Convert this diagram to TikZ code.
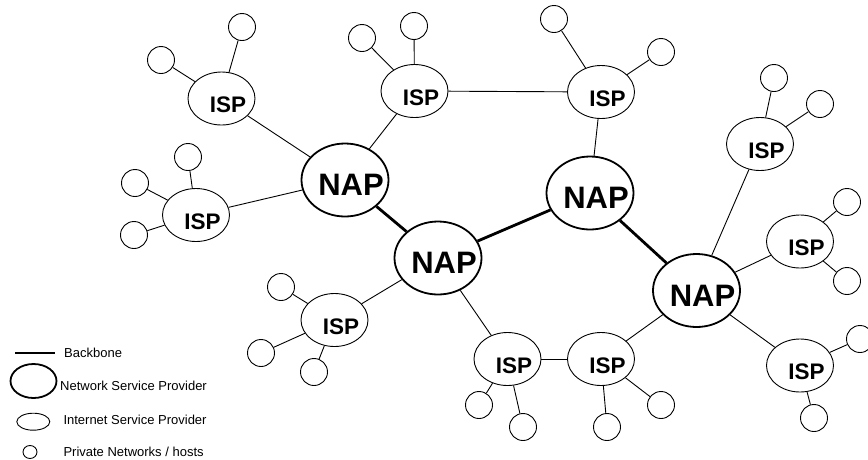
\documentclass[tikz,border=0pt]{standalone}
\usepackage{fontspec}
\setmainfont{Liberation Sans}
\usetikzlibrary{shapes.geometric}

\newcommand\napfont{\fontsize{31}{31}\selectfont\bfseries}
\newcommand\ispfont{\fontsize{22.5}{22.5}\selectfont\bfseries}
\newcommand\legfont{\fontsize{13}{13}\selectfont}

\begin{document}
\begin{tikzpicture}[x=1pt,y=-1pt,
  link/.style={line width=0.9pt},
  backbone/.style={line width=2.8pt},
  napnode/.style={ellipse, draw, line width=1.8pt, minimum width=87pt, minimum height=73pt,
    inner sep=0pt, label={[font=\napfont, xshift=6pt, yshift=-5pt]center:NAP}},
  ispnode/.style={ellipse, draw, line width=0.9pt, minimum width=67pt, minimum height=53pt,
    inner sep=0pt, label={[font=\ispfont, xshift=6.5pt, yshift=-6.5pt]center:ISP}},
  hostnode/.style={circle, draw, line width=0.9pt, minimum size=27pt, inner sep=0pt},
  legtext/.style={anchor=west, font=\legfont, inner sep=0pt},
]
\useasboundingbox (0,0) rectangle (868,459);

% network access points
\node[napnode] (n1) at (345,180) {};
\node[napnode] (n2) at (438,258) {};
\node[napnode] (n3) at (590,193) {};
\node[napnode] (n4) at (696.5,290.5) {};

% internet service providers
\node[ispnode] (ia) at (221.5,98.5) {};
\node[ispnode] (ib) at (414.5,91) {};
\node[ispnode] (ic) at (601,92) {};
\node[ispnode] (id) at (196,215) {};
\node[ispnode] (ie) at (760,144) {};
\node[ispnode] (if) at (800,241.5) {};
\node[ispnode] (ig) at (800,365.5) {};
\node[ispnode] (ih) at (334.5,320) {};
\node[ispnode] (ii) at (507.5,359) {};
\node[ispnode] (ij) at (601,359) {};

% private networks / hosts
\node[hostnode] (a1) at (242,27) {};
\node[hostnode] (a2) at (161,60) {};
\node[hostnode] (b1) at (362,38) {};
\node[hostnode] (b2) at (414,26) {};
\node[hostnode] (c1) at (554,19) {};
\node[hostnode] (c2) at (661,52) {};
\node[hostnode] (d1) at (188,157) {};
\node[hostnode] (d2) at (135,183) {};
\node[hostnode] (d3) at (134,235) {};
\node[hostnode] (e1) at (774,78) {};
\node[hostnode] (e2) at (820,104) {};
\node[hostnode] (f1) at (847,202) {};
\node[hostnode] (f2) at (847,281) {};
\node[hostnode] (g1) at (860,339) {};
\node[hostnode] (g2) at (814,418) {};
\node[hostnode] (h1) at (281,287) {};
\node[hostnode] (h2) at (261,353) {};
\node[hostnode] (h3) at (314,372) {};
\node[hostnode] (i1) at (479,405) {};
\node[hostnode] (i2) at (523,427) {};
\node[hostnode] (j1) at (607,427) {};
\node[hostnode] (j2) at (661,405) {};

% backbone between NAPs
\draw[backbone] (n1) -- (n2);
\draw[backbone] (n2) -- (n3);
\draw[backbone] (n3) -- (n4);

% NAP to ISP links
\draw[link] (n1) -- (ia);
\draw[link] (n1) -- (ib);
\draw[link] (n1) -- (id);
\draw[link] (n2) -- (ih);
\draw[link] (n2) -- (ii);
\draw[link] (n3) -- (ic);
\draw[link] (n4) -- (ie);
\draw[link] (n4) -- (if);
\draw[link] (n4) -- (ig);
\draw[link] (n4) -- (ij);

% ISP to ISP links
\draw[link] (ib) -- (ic);
\draw[link] (ii) -- (ij);

% ISP to host links
\foreach \s/\t in {ia/a1, ia/a2, ib/b1, ib/b2, ic/c1, ic/c2, id/d1, id/d2, id/d3,
                   ie/e1, ie/e2, if/f1, if/f2, ig/g1, ig/g2, ih/h1, ih/h2, ih/h3,
                   ii/i1, ii/i2, ij/j1, ij/j2}
  \draw[link] (\s) -- (\t);

% legend
\coordinate (bb1) at (15,353);
\coordinate (bb2) at (55,353);
\draw[backbone] (bb1) -- (bb2);
\node[legtext] (lbb) at (64,353) {Backbone};

\node[ellipse, draw, line width=1.8pt, minimum width=46pt, minimum height=34pt, inner sep=0pt] (lnsp) at (33.5,381) {};
\node[legtext] (lnspt) at (60,386) {Network Service Provider};

\node[ellipse, draw, line width=0.9pt, minimum width=33pt, minimum height=17pt, inner sep=0pt] (lisp) at (33.3,421.7) {};
\node[legtext] (lispt) at (63.3,420) {Internet Service Provider};

\node[ellipse, draw, line width=0.9pt, minimum width=14pt, minimum height=13pt, inner sep=0pt] (lhost) at (30,452) {};
\node[legtext] (lhostt) at (63.3,451.5) {Private Networks / hosts};
\end{tikzpicture}
\end{document}
